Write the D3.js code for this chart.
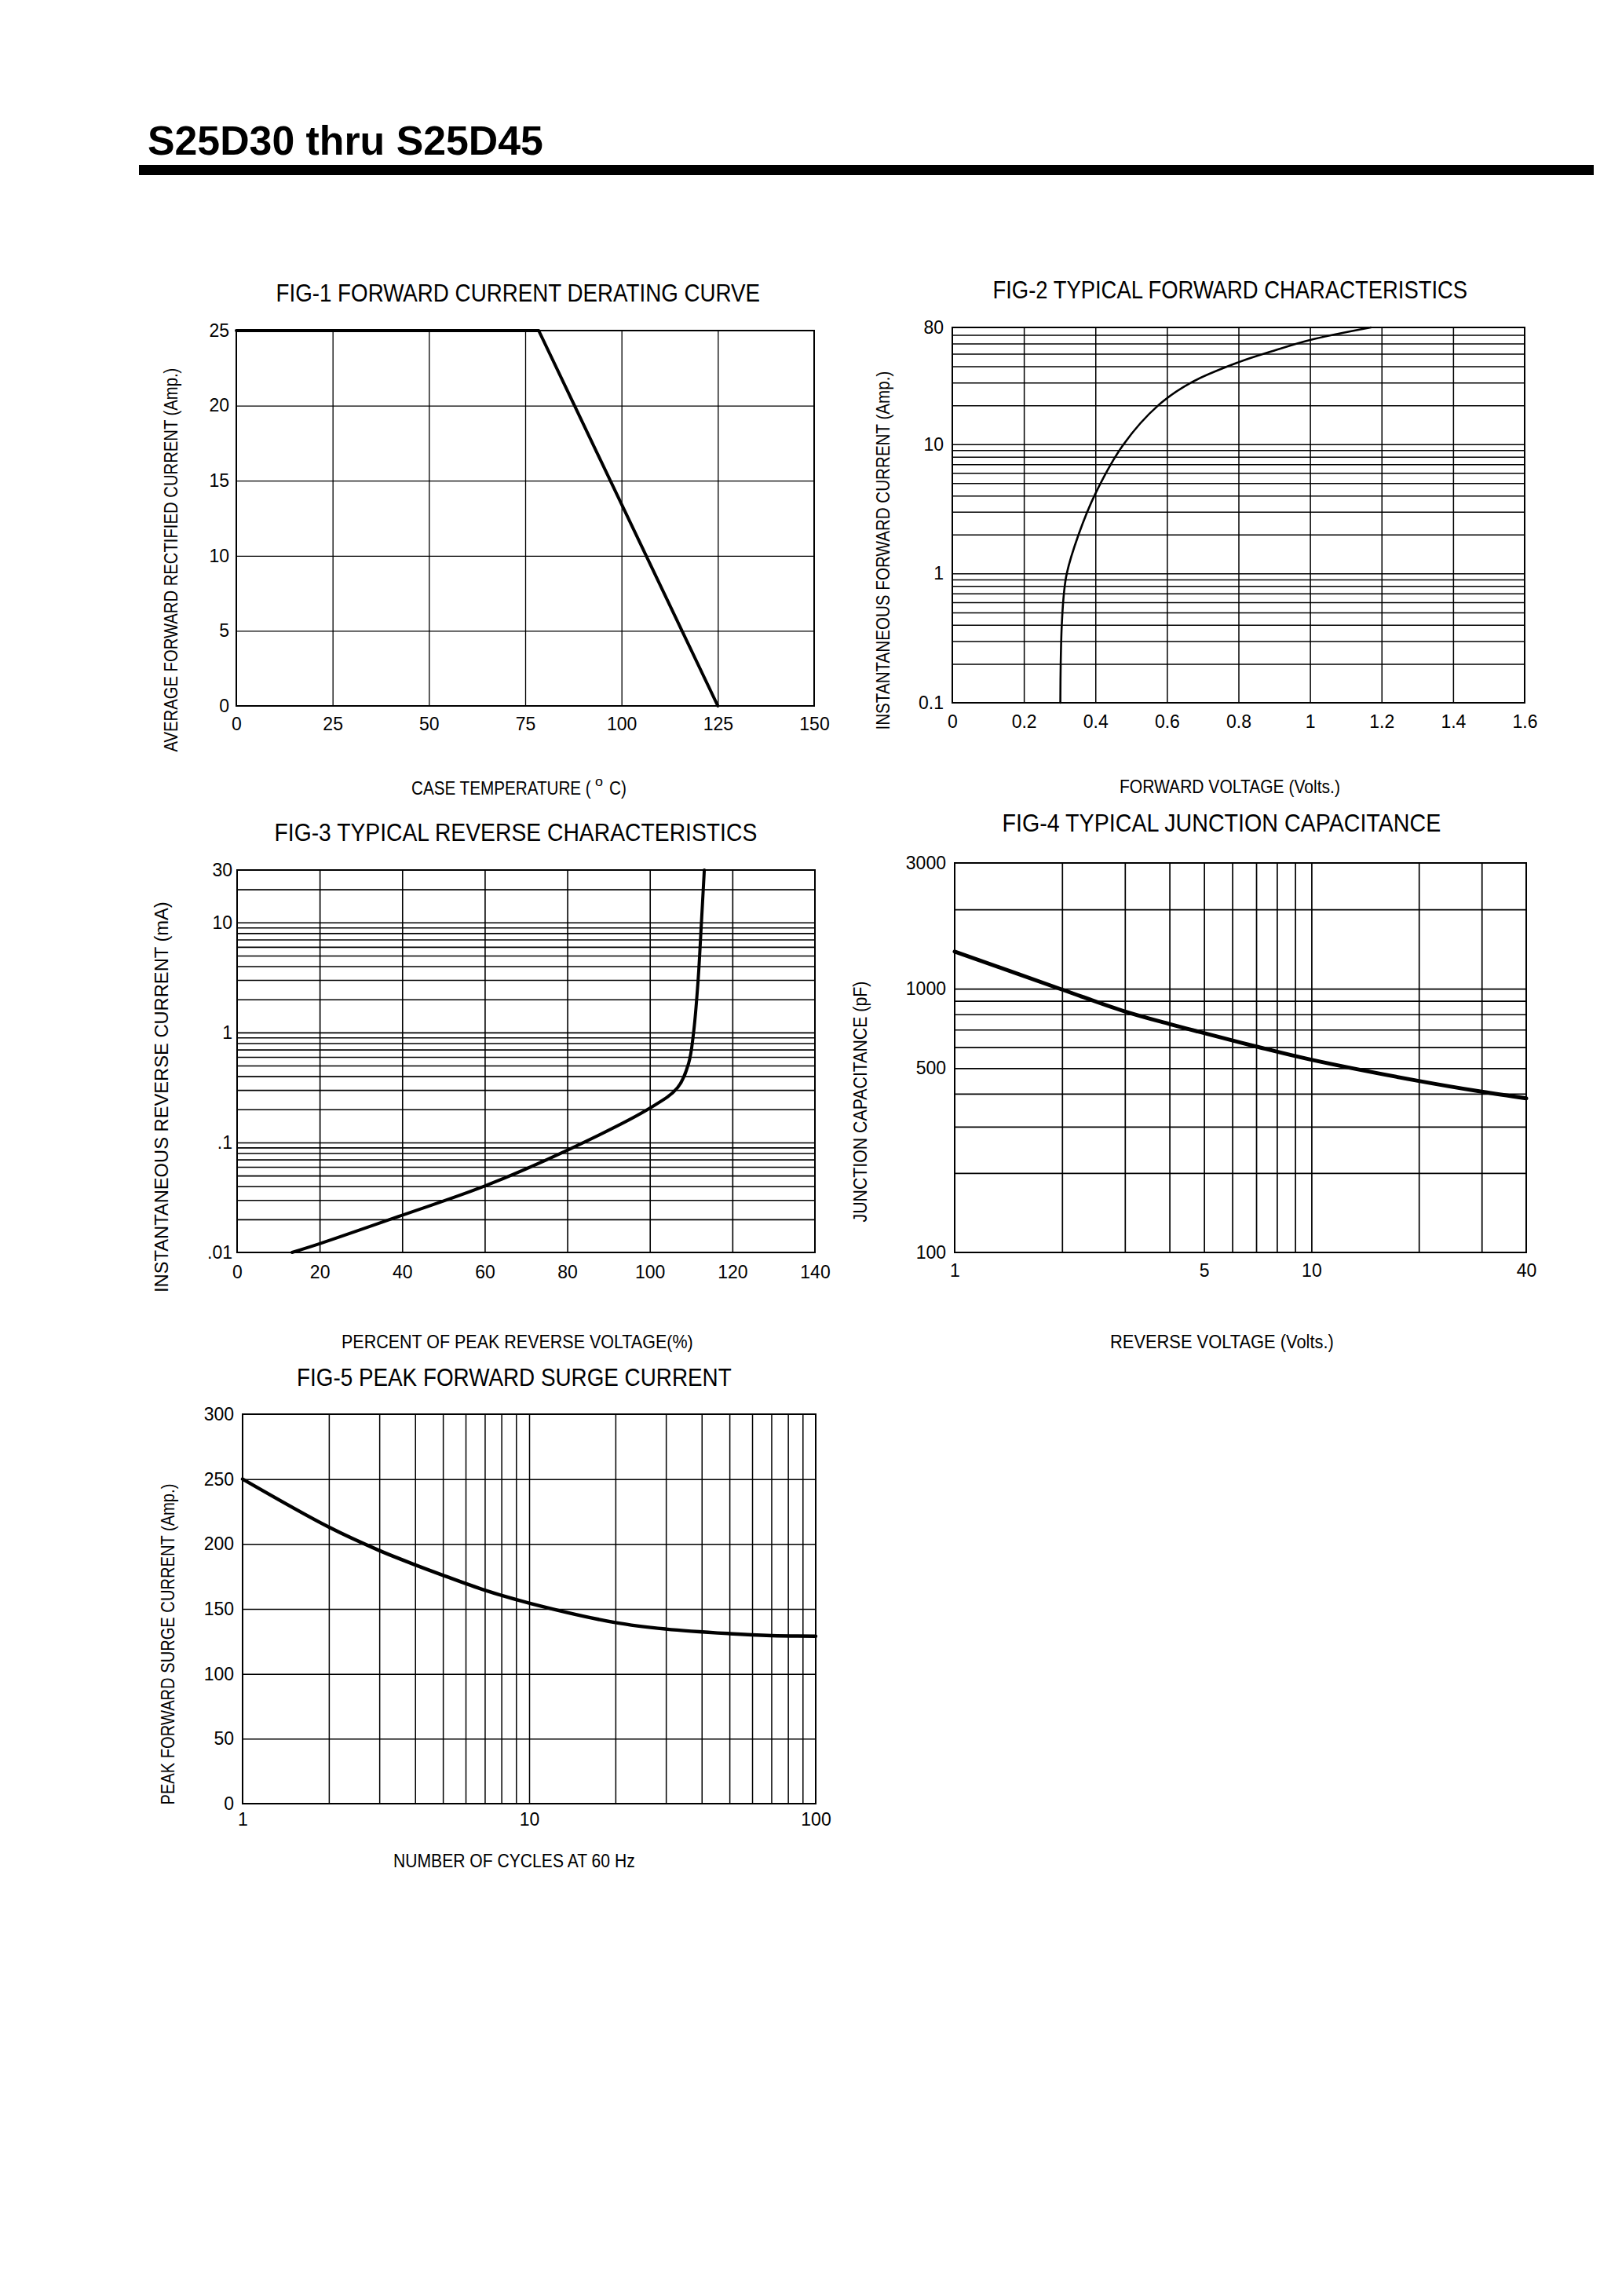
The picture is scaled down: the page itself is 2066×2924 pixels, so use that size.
<!DOCTYPE html>
<html><head><meta charset="utf-8">
<script src="https://cdn.jsdelivr.net/npm/d3@7"></script>
<style>
body{margin:0;background:#fff}
text{font-family:"Liberation Sans", Arial, sans-serif;fill:#000}
</style>
</head><body>
<svg id="page" width="2066" height="2924"></svg>
<script>
// ---------------- DATA ----------------
const pageTitle = "S25D30 thru S25D45";

// FIG-1 forward current derating curve
const fig1Temp = [0, 78.5, 125];
const fig1Current = [25, 25, 0];
const fig1XTicks = [0, 25, 50, 75, 100, 125, 150];
const fig1YTicks = [0, 5, 10, 15, 20, 25];

// FIG-2 typical forward characteristics
const fig2Voltage = [0.302, 0.303, 0.306, 0.312, 0.320, 0.353, 0.400, 0.479, 0.576, 0.668, 0.80, 0.90, 1.00, 1.17];
const fig2Current = [0.1, 0.2, 0.4, 0.7, 1, 2, 4.15, 10, 20, 30, 43, 53, 64, 80];
const fig2XTicks = [0, 0.2, 0.4, 0.6, 0.8, 1, 1.2, 1.4, 1.6];
const fig2YTicks = [0.1, 1, 10, 80];

// FIG-3 typical reverse characteristics
const fig3Percent = [13.3, 20, 40, 60, 80, 100, 106.7, 109.4, 110.6, 111.7, 112.5, 113.2];
const fig3Current = [0.01, 0.012, 0.0218, 0.0402, 0.085, 0.205, 0.314, 0.525, 1.0, 3.0, 10, 30];
const fig3XTicks = [0, 20, 40, 60, 80, 100, 120, 140];
const fig3YTicks = [0.01, 0.1, 1, 10, 30];

// FIG-4 typical junction capacitance
const fig4Voltage = [1, 2, 3, 4, 5, 7, 10, 20, 30, 40];
const fig4Cap = [1384, 993, 820, 735, 679, 604, 538, 447, 407, 384];
const fig4XTicks = [1, 5, 10, 40];
const fig4YTicks = [100, 500, 1000, 3000];

// FIG-5 peak forward surge current
const fig5Cycles = [1, 2, 3, 4, 5, 7, 10, 20, 30, 50, 70, 100];
const fig5Current = [250, 213, 195, 184, 176, 164.5, 154.5, 139.5, 134.5, 131, 129.5, 129];
const fig5XTicks = [1, 10, 100];
const fig5YTicks = [0, 50, 100, 150, 200, 250, 300];

// ---------------- DRAWING ----------------
const svg = d3.select("#page");
svg.append("rect").attr("width", 2066).attr("height", 2924).attr("fill", "#fff");

// place a text so that it starts at (x, y) and is exactly len pixels wide,
// condensing it horizontally with a transform (rotate = -90 for vertical titles, centred)
function placeText(parent, txt, x, y, len, size, opts = {}) {
  const t = parent.append("text").attr("font-size", size).text(txt);
  if (opts.bold) t.attr("font-weight", "bold");
  const nat = t.node().getComputedTextLength() || len;
  const sx = len / nat;
  if (opts.rotate) {
    t.attr("x", -nat / 2).attr("y", 0).attr("dy", "0.36em")
     .attr("transform", `translate(${x},${y}) rotate(-90) scale(${sx},1)`);
  } else {
    t.attr("x", 0).attr("y", 0).attr("transform", `translate(${x},${y}) scale(${sx},1)`);
  }
  return t;
}

// page heading
placeText(svg, pageTitle, 188, 197, 504, 52, {bold: true});
svg.append("rect").attr("x", 177).attr("y", 210).attr("width", 1853).attr("height", 13).attr("fill", "#000");

function panel(c) {
  const x = (c.xLog ? d3.scaleLog() : d3.scaleLinear()).domain(c.xDomain).range([c.left, c.right]);
  const y = (c.yLog ? d3.scaleLog() : d3.scaleLinear()).domain(c.yDomain).range([c.bottom, c.top]);
  const w = c.right - c.left, h = c.bottom - c.top;
  const g = svg.append("g");

  // vertical grid
  const xg = g.append("g").attr("transform", `translate(0,${c.bottom})`)
    .call(d3.axisBottom(x).tickValues(c.xGrid).tickSize(-h).tickFormat(""));
  xg.select(".domain").remove();
  xg.selectAll("line").attr("stroke", "#000").attr("stroke-width", c.gridW || 1.6);
  // horizontal grid
  const yg = g.append("g").attr("transform", `translate(${c.left},0)`)
    .call(d3.axisLeft(y).tickValues(c.yGrid).tickSize(-w).tickFormat(""));
  yg.select(".domain").remove();
  yg.selectAll("line").attr("stroke", "#000").attr("stroke-width", c.gridW || 1.6);

  // frame
  g.append("rect").attr("x", c.left).attr("y", c.top).attr("width", w).attr("height", h)
    .attr("fill", "none").attr("stroke", "#000").attr("stroke-width", 2);

  // tick labels
  const xa = g.append("g").attr("transform", `translate(0,${c.bottom})`)
    .call(d3.axisBottom(x).tickValues(c.xTicks).tickSize(0).tickPadding(c.xPad).tickFormat(c.xFmt || (d => String(d))));
  xa.select(".domain").remove();
  xa.selectAll("text").attr("font-size", 23).attr("font-family", '"Liberation Sans", Arial, sans-serif');
  const ya = g.append("g").attr("transform", `translate(${c.left},0)`)
    .call(d3.axisLeft(y).tickValues(c.yTicks).tickSize(0).tickPadding(c.yPad).tickFormat(c.yFmt || (d => String(d))));
  ya.select(".domain").remove();
  ya.selectAll("text").attr("font-size", 23).attr("font-family", '"Liberation Sans", Arial, sans-serif');

  // curve
  const pts = c.xs.map((v, i) => [v, c.ys[i]]);
  g.append("path").datum(pts)
    .attr("d", d3.line().x(d => x(d[0])).y(d => y(d[1])).curve(c.curve || d3.curveLinear))
    .attr("fill", "none").attr("stroke", "#000").attr("stroke-width", c.lineW)
    .attr("stroke-linejoin", "round").attr("stroke-linecap", "round");

  // figure title
  placeText(g, c.title.text, c.title.cx - c.title.len / 2, c.title.y, c.title.len, 31);

  // x axis title pieces (e.g. a raised degree "o")
  c.xTitle.forEach(p => placeText(g, p.text, p.x, p.y, p.len, p.size || 24));

  // y axis title (rotated)
  placeText(g, c.yTitle.text, c.yTitle.cx, c.yTitle.cy, c.yTitle.len, 24, {rotate: true});
}

const tiny = d => String(d).replace(/^0\./, ".");
const smooth = d3.curveCatmullRom.alpha(0.5);

// FIG-1
panel({
  left: 301, right: 1037, top: 421, bottom: 899,
  xDomain: [0, 150], yDomain: [0, 25],
  xGrid: fig1XTicks.slice(1, -1), yGrid: fig1YTicks.slice(1, -1),
  xTicks: fig1XTicks, yTicks: fig1YTicks, xPad: 15, yPad: 9, gridW: 1.3,
  xs: fig1Temp, ys: fig1Current, lineW: 4,
  title: {text: "FIG-1 FORWARD CURRENT DERATING CURVE", cx: 660, y: 384, len: 617},
  xTitle: [
    {text: "CASE TEMPERATURE (", x: 524, y: 1012, len: 229},
    {text: "o", x: 758, y: 1001, size: 17, len: 10},
    {text: "C)", x: 776, y: 1012, len: 22}
  ],
  yTitle: {text: "AVERAGE FORWARD RECTIFIED CURRENT (Amp.)", cx: 217, cy: 713, len: 489}
});

// FIG-2
{
  const ys = d3.scaleLog().domain([0.1, 80]);
  panel({
    left: 1213, right: 1942, top: 417, bottom: 895,
    xDomain: [0, 1.6], yDomain: [0.1, 80], yLog: true,
    xGrid: fig2XTicks.slice(1, -1), yGrid: ys.ticks().filter(v => v > 0.1 && v < 80),
    xTicks: fig2XTicks, yTicks: fig2YTicks, xPad: 16, yPad: 11, gridW: 1.5,
    xs: fig2Voltage, ys: fig2Current, lineW: 2.6, curve: smooth,
    title: {text: "FIG-2 TYPICAL FORWARD CHARACTERISTICS", cx: 1567, y: 380, len: 605},
    xTitle: [{text: "FORWARD VOLTAGE (Volts.)", x: 1426, y: 1010, len: 281}],
    yTitle: {text: "INSTANTANEOUS FORWARD CURRENT (Amp.)", cx: 1124, cy: 701, len: 457}
  });
}

// FIG-3
{
  const ys = d3.scaleLog().domain([0.01, 30]);
  panel({
    left: 302, right: 1038, top: 1108, bottom: 1595,
    xDomain: [0, 140], yDomain: [0.01, 30], yLog: true,
    xGrid: fig3XTicks.slice(1, -1), yGrid: ys.ticks().filter(v => v > 0.01 && v < 30),
    xTicks: fig3XTicks, yTicks: fig3YTicks, xPad: 17, yPad: 6, gridW: 1.6,
    yFmt: tiny,
    xs: fig3Percent, ys: fig3Current, lineW: 4, curve: smooth,
    title: {text: "FIG-3 TYPICAL REVERSE CHARACTERISTICS", cx: 657, y: 1071, len: 615},
    xTitle: [{text: "PERCENT OF PEAK REVERSE VOLTAGE(%)", x: 435, y: 1717, len: 448}],
    yTitle: {text: "INSTANTANEOUS REVERSE CURRENT (mA)", cx: 205, cy: 1397, len: 498}
  });
}

// FIG-4
{
  const xs = d3.scaleLog().domain([1, 40]);
  const ys = d3.scaleLog().domain([100, 3000]);
  panel({
    left: 1216, right: 1944, top: 1099, bottom: 1595,
    xDomain: [1, 40], yDomain: [100, 3000], xLog: true, yLog: true,
    xGrid: xs.ticks().filter(v => v > 1 && v < 40), yGrid: ys.ticks().filter(v => v > 100 && v < 3000),
    xTicks: fig4XTicks, yTicks: fig4YTicks, xPad: 15, yPad: 11, gridW: 1.7,
    xs: fig4Voltage, ys: fig4Cap, lineW: 5, curve: smooth,
    title: {text: "FIG-4 TYPICAL JUNCTION CAPACITANCE", cx: 1556, y: 1059, len: 559},
    xTitle: [{text: "REVERSE VOLTAGE (Volts.)", x: 1414, y: 1717, len: 285}],
    yTitle: {text: "JUNCTION CAPACITANCE (pF)", cx: 1095, cy: 1403, len: 307}
  });
}

// FIG-5
{
  const xs = d3.scaleLog().domain([1, 100]);
  panel({
    left: 309, right: 1039, top: 1801, bottom: 2297,
    xDomain: [1, 100], yDomain: [0, 300], xLog: true,
    xGrid: xs.ticks().filter(v => v > 1 && v < 100), yGrid: fig5YTicks.slice(1, -1),
    xTicks: fig5XTicks, yTicks: fig5YTicks, xPad: 12, yPad: 11, gridW: 1.5,
    xs: fig5Cycles, ys: fig5Current, lineW: 4.5, curve: smooth,
    title: {text: "FIG-5 PEAK FORWARD SURGE CURRENT", cx: 655, y: 1765, len: 554},
    xTitle: [{text: "NUMBER OF CYCLES AT 60 Hz", x: 501, y: 2378, len: 308}],
    yTitle: {text: "PEAK FORWARD SURGE CURRENT (Amp.)", cx: 213, cy: 2094, len: 409}
  });
}
</script>
</body></html>
